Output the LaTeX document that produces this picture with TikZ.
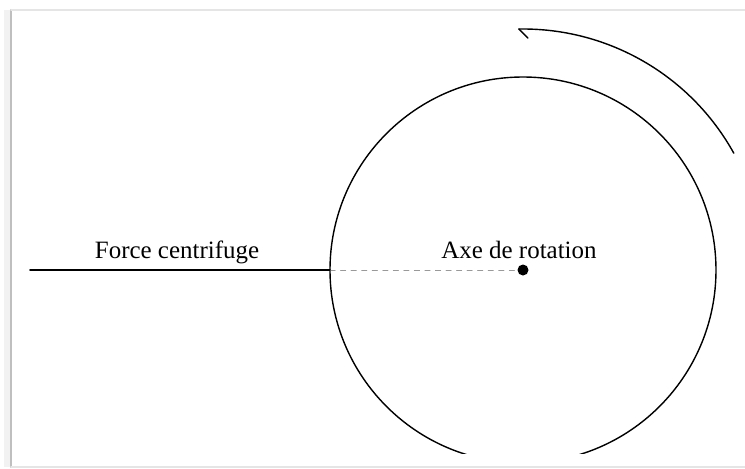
\documentclass[tikz,border=0pt]{standalone}
\usepackage{fontspec}
\setmainfont{Liberation Serif}
\usetikzlibrary{calc}
\begin{document}
\begin{tikzpicture}[x=0.02cm, y=0.02cm, line join=round, line cap=round, font=\fontsize{14.2}{16}\selectfont]
 \def\R{193}\def\Rfl{241}
 \useasboundingbox (0,0) rectangle (745,468);
 % cadre
 \fill[black!5] (4,1) rectangle (12,458);
 \draw[black!25, line width=1.2pt] (11,1) -- (11,458);
 \draw[black!10, line width=0.8pt] (11,458) -- (745,458);
 \draw[black!10, line width=0.8pt] (11,1) -- (745,1);
 % points
 \coordinate (O) at (523,198);
 \coordinate (A) at (30,198);
 \coordinate (P) at (330,198);
 \begin{scope}
 \clip (0,15) rectangle (745,468);
 \draw[line width=0.8pt] (O) circle (\R);
 \end{scope}
 \draw[black!40, dash pattern=on 3pt off 3pt] (P) -- (O);
 \draw[line width=1.1pt] (A) -- (P);
 \node[circle, fill, inner sep=0, minimum size=0.22cm] (axe) at (O) {};
 \node[anchor=base] (force) at (177,210) {Force centrifuge};
 \node[anchor=base] (rot) at (519,210) {Axe de rotation};
 % sens de rotation
 \coordinate (E) at ($(O)+(91:\Rfl)$);
 \draw[line width=0.8pt] (O) ++(29:\Rfl) arc (29:91:\Rfl);
 \draw[line width=0.8pt] (E) -- ++(-45:13);
\end{tikzpicture}
\end{document}
